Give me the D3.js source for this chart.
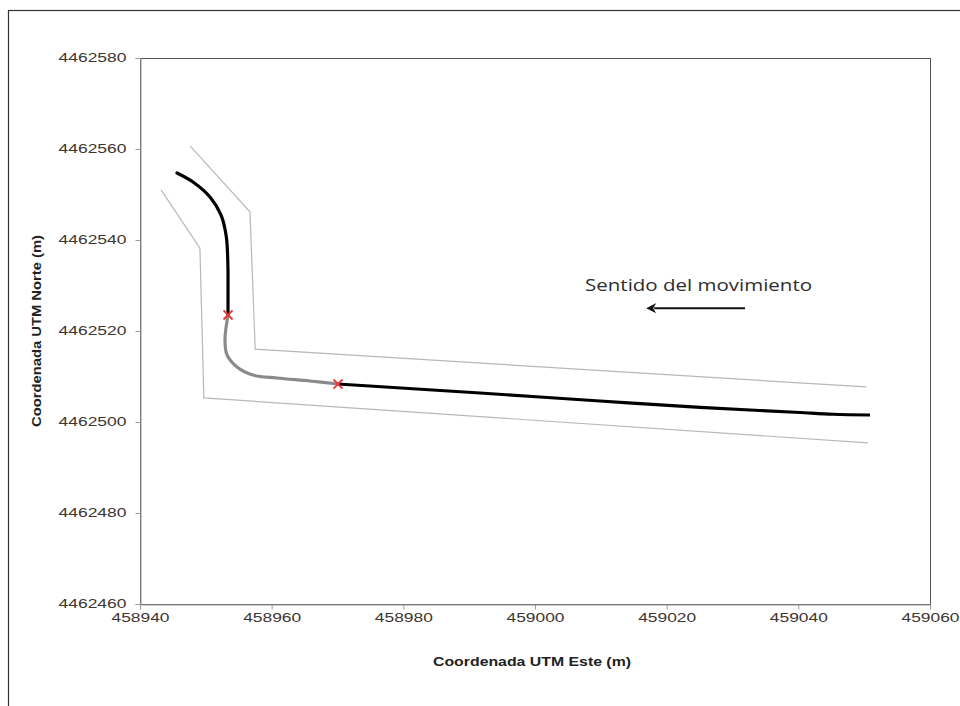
<!DOCTYPE html>
<html>
<head>
<meta charset="utf-8">
<script src="https://cdn.jsdelivr.net/npm/d3@7"></script>
<style>
  html, body { margin: 0; padding: 0; background: #fff; }
  svg { display: block; }
</style>
</head>
<body>
<svg id="chart" width="960" height="706"></svg>
<script>
// Axis ticks (UTM coordinates, metres)
const xTicks = [458940, 458960, 458980, 459000, 459020, 459040, 459060];
const yTicks = [4462460, 4462480, 4462500, 4462520, 4462540, 4462560, 4462580];

// Vehicle track: black stretch after the turn, heading north-west
const trackNorth = [
  [458945.62, 4462554.73], [458948.05, 4462552.75], [458950.63, 4462549.45],
  [458952.30, 4462545.50], [458953.10, 4462540.80], [458953.35, 4462534.50],
  [458953.37, 4462529.01], [458953.37, 4462523.52]
];
// Turning section (grey)
const trackTurn = [
  [458953.37, 4462523.52], [458952.91, 4462518.02], [458953.22, 4462514.73],
  [458954.73, 4462512.09], [458957.16, 4462510.33], [458960.81, 4462509.67],
  [458965.82, 4462509.01], [458970.08, 4462508.35]
];
// Straight approach from the east (black)
const trackEast = [
  [458970.08, 4462508.35], [458991.65, 4462506.37], [459009.87, 4462504.62],
  [459025.06, 4462503.20], [459040.25, 4462502.09], [459045.27, 4462501.70],
  [459050.89, 4462501.54]
];
// Road edges
const edgeUpper = [
  [458947.6, 4462560.7], [458956.7, 4462546.2], [458957.5, 4462516.0],
  [459050.3, 4462507.7]
];
const edgeLower = [
  [458943.2, 4462551.0], [458949.1, 4462538.2], [458949.7, 4462505.3],
  [459050.6, 4462495.4]
];
// Start / end of the turn
const turnPoints = [[458953.37, 4462523.52], [458970.08, 4462508.35]];

// Direction annotation
const noteText = "Sentido del movimiento";
const notePos = [459007.6, 4462528.8];
const arrowFrom = [459031.9, 4462525.0];
const arrowTo = [459017.5, 4462525.0];

const svg = d3.select("#chart");
const plot = { left: 140, top: 58, right: 930, bottom: 604 };

const x = d3.scaleLinear().domain([458940, 459060]).range([plot.left, plot.right]);
const y = d3.scaleLinear().domain([4462460, 4462580]).range([plot.bottom, plot.top]);

// Outer chart frame
svg.append("rect")
  .attr("x", 8.5).attr("y", 10.5)
  .attr("width", 970).attr("height", 720)
  .attr("fill", "none").attr("stroke", "#333").attr("stroke-width", 1.2);

// Plot area frame (top / right edges)
svg.append("rect")
  .attr("x", plot.left + 0.5).attr("y", plot.top + 0.5)
  .attr("width", plot.right - plot.left).attr("height", plot.bottom - plot.top)
  .attr("fill", "none").attr("stroke", "#555").attr("stroke-width", 1);

const fontTick = "'Liberation Sans', Arial, sans-serif";

// Y axis
const yAxis = svg.append("g")
  .attr("transform", `translate(${plot.left + 0.5},0)`)
  .call(d3.axisLeft(y).tickValues(yTicks).tickSize(5).tickPadding(9).tickFormat(d3.format("d")));
yAxis.select(".domain").attr("stroke", "#9a9a9a");
yAxis.selectAll(".tick line").attr("stroke", "#9a9a9a");
yAxis.selectAll("text")
  .attr("fill", "#3d3530").style("font-family", fontTick).style("font-size", "12px")
  .attr("textLength", 68).attr("lengthAdjust", "spacingAndGlyphs");

// X axis
const xAxis = svg.append("g")
  .attr("transform", `translate(0,${plot.bottom + 0.5})`)
  .call(d3.axisBottom(x).tickValues(xTicks).tickSize(5).tickPadding(4).tickFormat(d3.format("d")));
xAxis.select(".domain").attr("stroke", "#9a9a9a");
xAxis.selectAll(".tick line").attr("stroke", "#9a9a9a");
xAxis.selectAll("text")
  .attr("fill", "#3d3530").style("font-family", fontTick).style("font-size", "12px")
  .attr("textLength", 58).attr("lengthAdjust", "spacingAndGlyphs");

// Axis titles
svg.append("text")
  .attr("x", (plot.left + plot.right) / 2 - 3).attr("y", 666)
  .attr("text-anchor", "middle")
  .attr("fill", "#222").style("font-family", fontTick).style("font-size", "12px").style("font-weight", "bold")
  .attr("textLength", 198).attr("lengthAdjust", "spacingAndGlyphs")
  .text("Coordenada UTM Este (m)");

svg.append("text")
  .attr("transform", `translate(41,${(plot.top + plot.bottom) / 2}) rotate(-90)`)
  .attr("text-anchor", "middle")
  .attr("fill", "#222").style("font-family", fontTick).style("font-size", "12px").style("font-weight", "bold")
  .attr("textLength", 192).attr("lengthAdjust", "spacingAndGlyphs")
  .text("Coordenada UTM Norte (m)");

// Road edges
const straight = d3.line().x(d => x(d[0])).y(d => y(d[1]));
svg.append("g").selectAll("path")
  .data([edgeUpper, edgeLower])
  .join("path")
  .attr("d", straight)
  .attr("fill", "none").attr("stroke", "#b8b8b8").attr("stroke-width", 1.2);

// Track
const smooth = d3.line().x(d => x(d[0])).y(d => y(d[1])).curve(d3.curveCatmullRom.alpha(0.5));
const smoothX = d3.line().x(d => x(d[0])).y(d => y(d[1])).curve(d3.curveMonotoneX);
svg.append("path").attr("d", smooth(trackTurn))
  .attr("fill", "none").attr("stroke", "#8a8a8a").attr("stroke-width", 3.2).attr("stroke-linecap", "round");
svg.append("path").attr("d", smooth(trackNorth))
  .attr("fill", "none").attr("stroke", "#000").attr("stroke-width", 3.2).attr("stroke-linecap", "round");
svg.append("path").attr("d", smoothX(trackEast))
  .attr("fill", "none").attr("stroke", "#000").attr("stroke-width", 3.2).attr("stroke-linecap", "butt");

// Turn markers
svg.append("g").selectAll("path")
  .data(turnPoints)
  .join("path")
  .attr("transform", d => `translate(${x(d[0])},${y(d[1])})`)
  .attr("d", d3.symbol(d3.symbolX, 55))
  .attr("fill", "none").attr("stroke", "#ee3333").attr("stroke-width", 1.8);

// Direction note and arrow
svg.append("text")
  .attr("x", x(notePos[0])).attr("y", y(notePos[1]))
  .attr("fill", "#2e2e2e").style("font-family", "'Open Sans', 'Noto Sans', sans-serif").style("font-size", "16px")
  .attr("textLength", 227).attr("lengthAdjust", "spacingAndGlyphs")
  .text(noteText);

const defs = svg.append("defs");
defs.append("marker")
  .attr("id", "arrowHead")
  .attr("viewBox", "0 0 10 10").attr("refX", 2).attr("refY", 5)
  .attr("markerWidth", 5).attr("markerHeight", 5).attr("orient", "auto")
  .append("path").attr("d", "M0,0 L10,5 L0,10 L3,5 Z").attr("fill", "#111");

svg.append("line")
  .attr("x1", x(arrowFrom[0])).attr("y1", y(arrowFrom[1]))
  .attr("x2", x(arrowTo[0]) + 4).attr("y2", y(arrowTo[1]))
  .attr("stroke", "#111").attr("stroke-width", 2)
  .attr("marker-end", "url(#arrowHead)");
</script>
</body>
</html>
